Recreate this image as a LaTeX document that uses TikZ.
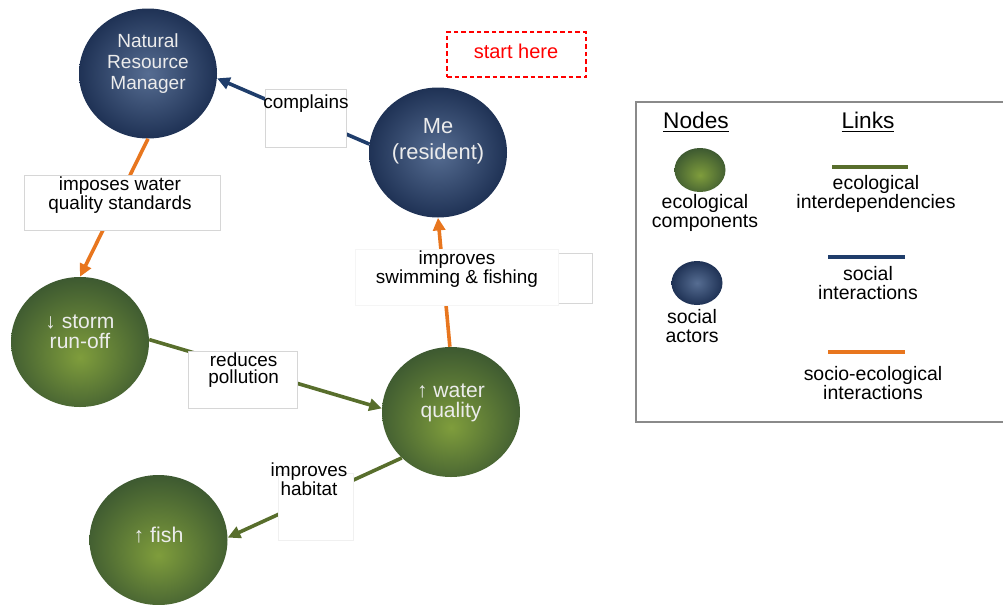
\documentclass[tikz,border=0pt]{standalone}
\usepackage{fontspec}
\setmainfont{Liberation Sans}
\usetikzlibrary{shapes.geometric,arrows.meta}
\definecolor{bin}{HTML}{566D92}
\definecolor{bout}{HTML}{1F3255}
\definecolor{gin}{HTML}{7F9D3C}
\definecolor{gout}{HTML}{3A5630}
\definecolor{bedge}{HTML}{1F3D6B}
\definecolor{oedge}{HTML}{E8761E}
\definecolor{gedge}{HTML}{586E2C}
\definecolor{nodetxt}{HTML}{ECECEC}
\definecolor{boxline}{HTML}{D6D6D6}
\definecolor{legline}{HTML}{8A8A8A}
\pgfdeclareradialshading{bball}{\pgfpoint{0bp}{0bp}}{color(0bp)=(bin); color(25bp)=(bout); color(50bp)=(bout)}
\pgfdeclareradialshading{gball}{\pgfpoint{0bp}{-6bp}}{color(0bp)=(gin); color(29bp)=(gout); color(50bp)=(gout)}
\tikzset{
  ball/.style={ellipse, minimum width=103.5pt, minimum height=97.5pt, inner sep=0pt},
  blueball/.style={ball, shade, shading=bball},
  greenball/.style={ball, shade, shading=gball},
  smallblue/.style={ellipse, minimum width=38.25pt, minimum height=33pt, inner sep=0pt, shade, shading=bball},
  smallgreen/.style={ellipse, minimum width=38.25pt, minimum height=33pt, inner sep=0pt, shade, shading=gball},
  balltext/.style={text=nodetxt, align=center, inner sep=0pt},
  edgebase/.style={line width=2.7pt, -{Triangle[length=9.5pt,width=9pt]}},
  blueedge/.style={edgebase, draw=bedge, fill=bedge},
  orangeedge/.style={edgebase, draw=oedge, fill=oedge},
  greenedge/.style={edgebase, draw=gedge, fill=gedge},
  lbox/.style={draw=boxline, line width=0.6pt, fill=white, inner sep=0pt},
  lbtext/.style={align=center, inner sep=0pt, font=\fontsize{14.2}{12.2}\selectfont},
  legtext/.style={align=center, inner sep=0pt, font=\fontsize{14.6}{14.3}\selectfont},
  legline/.style={line width=2.6pt},
}
\begin{document}
\begin{tikzpicture}[x=0.75pt,y=-0.75pt]
\useasboundingbox (0,0) rectangle (1003,604);
% balls
\node[blueball] (nrm) at (148,73.5) {};
\node[blueball] (me) at (438,152.5) {};
\node[greenball] (storm) at (80,342) {};
\node[greenball] (water) at (451,412) {};
\node[greenball] (fish) at (158.5,540) {};
\node[balltext, font=\fontsize{14.3}{16}\selectfont] (nrmt) at (148,63.5) {Natural\\Resource\\Manager};
\node[balltext, font=\fontsize{16.4}{19.5}\selectfont] (met) at (438,141) {Me\\(resident)};
\node[balltext, font=\fontsize{15.8}{15}\selectfont] (stormt) at (80,332) {↓ storm\\run-off};
\node[balltext, font=\fontsize{15.8}{15}\selectfont] (watert) at (451,403) {↑ water\\quality};
\node[balltext, font=\fontsize{16}{15}\selectfont] (fisht) at (158.5,535) {↑ fish};
% edges
\draw[blueedge] (me.173) -- (nrm.-4);
\draw[orangeedge] (nrm.-90) -- (storm.90);
\draw[greenedge] (storm.2) -- (water.177);
\draw[orangeedge] (water.91) -- (me.-90);
\draw[greenedge] (water.-137) -- (fish.2);
% label boxes
\node[lbox, minimum width=60.75pt, minimum height=43.5pt] (bcompl) at (305.5,118) {};
\node[lbtext] (tcompl) at (306,104) {complains};
\node[lbox, minimum width=147pt, minimum height=41.25pt] (bimp) at (122,202.5) {};
\node[lbtext] (timp) at (120,195) {imposes water\\quality standards};
\node[lbox, minimum width=81.75pt, minimum height=42.75pt] (bred) at (243.3,380) {};
\node[lbtext, font=\fontsize{14.2}{13.2}\selectfont] (tred) at (243.6,370) {reduces\\pollution};
\node[lbox, minimum width=175.5pt, minimum height=37.5pt] (bswim2) at (475,278) {};
\node[lbox, draw=white!96!black, minimum width=152.25pt, minimum height=42pt] (bswim) at (456.5,277) {};
\node[lbtext] (tswim) at (457,269.5) {improves\\swimming \& fishing};
\node[lbox, draw=white!94!black, minimum width=56.25pt, minimum height=50.25pt] (bhab) at (315.5,506.5) {};
\node[lbtext, font=\fontsize{14.2}{11.5}\selectfont] (thab) at (309,479.5) {improves\\habitat};
% start here
\node[draw=red, dash pattern=on 3.4pt off 2.3pt, line width=0.8pt, minimum width=104.25pt, minimum height=33.75pt, inner sep=0pt] (bstart) at (516.5,54.5) {};
\node[text=red, inner sep=0pt, font=\fontsize{15}{15}\selectfont] (tstart) at (516,51.5) {start here};
% legend
\draw[line width=0.8pt, draw=legline] (636,102) rectangle (1012,422);
\node[inner sep=0pt, font=\fontsize{17}{17}\selectfont] (hnodes) at (696,122) {\underline{Nodes}};
\node[inner sep=0pt, font=\fontsize{17}{17}\selectfont] (hlinks) at (868,122) {\underline{Links}};
\node[smallgreen] (lgreen) at (700,170) {};
\node[legtext] (tgreen) at (705,212.5) {ecological\\components};
\node[smallblue] (lblue) at (697,283) {};
\node[legtext] (tblue) at (692,326) {social\\actors};
\draw[legline, draw=gedge] (832,167) -- (908,167);
\node[legtext] (teco) at (876,194) {ecological\\interdependencies};
\draw[legline, draw=bedge] (828,257) -- (905,257);
\node[legtext] (tsoc) at (868,283) {social\\interactions};
\draw[legline, draw=oedge] (828,352) -- (905,352);
\node[legtext] (tse) at (873,383) {socio-ecological\\interactions};
\end{tikzpicture}
\end{document}
